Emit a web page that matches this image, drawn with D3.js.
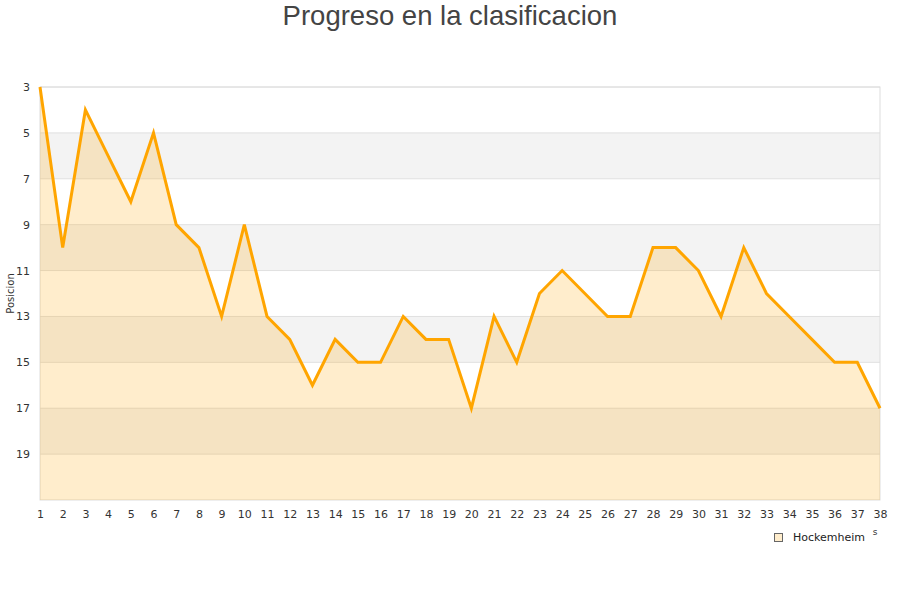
<!DOCTYPE html>
<html lang="es">
<head>
<meta charset="UTF-8" />
<title>Progreso en la clasificacion</title>
<script src="https://d3js.org/d3.v7.min.js"></script>
<style>
  body { margin: 0; font-family: "DejaVu Sans", sans-serif; background: #fff; }
  svg text { font-family: "DejaVu Sans", sans-serif; }
  .tick text { fill: #333; font-size: 11px; }
</style>
</head>
<body>
<svg width="900" height="600"></svg>
<script>
const jornadas = d3.range(1, 39);
const posiciones = [3, 10, 4, 6, 8, 5, 9, 10, 13, 9, 13, 14, 16, 14, 15, 15, 13, 14, 14, 17,
                    13, 15, 12, 11, 12, 13, 13, 10, 10, 11, 13, 10, 12, 13, 14, 15, 15, 17];
const yTicks = [3, 5, 7, 9, 11, 13, 15, 17, 19];
const bandas = [[5, 7], [9, 11], [13, 15], [17, 19]];
const equipo = "Hockemheim";

const svg = d3.select("svg");
const m = { left: 40, right: 880, top: 87, bottom: 500 };

const x = d3.scaleLinear().domain([1, 38]).range([m.left, m.right]);
const y = d3.scaleLinear().domain([3, 21]).range([m.top, m.bottom]);

// title
svg.append("text")
  .attr("x", 450).attr("y", 25)
  .attr("text-anchor", "middle")
  .style("font-family", "Liberation Sans, Arial, sans-serif")
  .attr("font-size", 27.5)
  .attr("fill", "#444")
  .text("Progreso en la clasificacion");

// alternating bands
svg.append("g").selectAll("rect")
  .data(bandas)
  .join("rect")
  .attr("x", m.left)
  .attr("width", m.right - m.left)
  .attr("y", d => y(d[0]))
  .attr("height", d => y(d[1]) - y(d[0]))
  .attr("fill", "#f3f3f3");

// grid lines
svg.append("g").selectAll("line")
  .data(yTicks)
  .join("line")
  .attr("x1", m.left).attr("x2", m.right)
  .attr("y1", d => y(d)).attr("y2", d => y(d))
  .attr("stroke", "#e0e0e0");

// plot border
svg.append("rect")
  .attr("x", m.left).attr("y", m.top)
  .attr("width", m.right - m.left).attr("height", m.bottom - m.top)
  .attr("fill", "none")
  .attr("stroke", "#ddd");

const data = jornadas.map((j, i) => ({ j, p: posiciones[i] }));

// area
svg.append("path")
  .datum(data)
  .attr("fill", "#ffa500")
  .attr("fill-opacity", 0.2)
  .attr("d", d3.area().x(d => x(d.j)).y0(y(21)).y1(d => y(d.p)));

// line
svg.append("path")
  .datum(data)
  .attr("fill", "none")
  .attr("stroke", "#ffa500")
  .attr("stroke-width", 3)
  .attr("d", d3.line().x(d => x(d.j)).y(d => y(d.p)));

// axes
const yAxis = svg.append("g")
  .attr("transform", `translate(${m.left},0)`)
  .call(d3.axisLeft(y).tickValues(yTicks).tickSize(0).tickPadding(10));
yAxis.select(".domain").remove();

const xAxis = svg.append("g")
  .attr("transform", `translate(0,${m.bottom})`)
  .call(d3.axisBottom(x).tickValues(jornadas).tickFormat(d3.format("d")).tickSize(0).tickPadding(10));
xAxis.select(".domain").remove();

// y axis title
svg.append("text")
  .attr("transform", `translate(14,${(m.top + m.bottom) / 2}) rotate(-90)`)
  .attr("text-anchor", "middle")
  .attr("font-size", 10)
  .attr("fill", "#333")
  .text("Posicion");

// leftover of x axis title
svg.append("text")
  .attr("x", 875).attr("y", 535)
  .attr("text-anchor", "middle")
  .attr("font-size", 9)
  .attr("fill", "#333")
  .text("s");

// legend
svg.append("rect")
  .attr("x", 774.5).attr("y", 533.5)
  .attr("width", 8).attr("height", 8)
  .attr("fill", "#ffedcc")
  .attr("stroke", "#666");
svg.append("text")
  .attr("x", 793).attr("y", 541)
  .attr("font-size", 11)
  .attr("fill", "#222")
  .text(equipo);
</script>
</body>
</html>
